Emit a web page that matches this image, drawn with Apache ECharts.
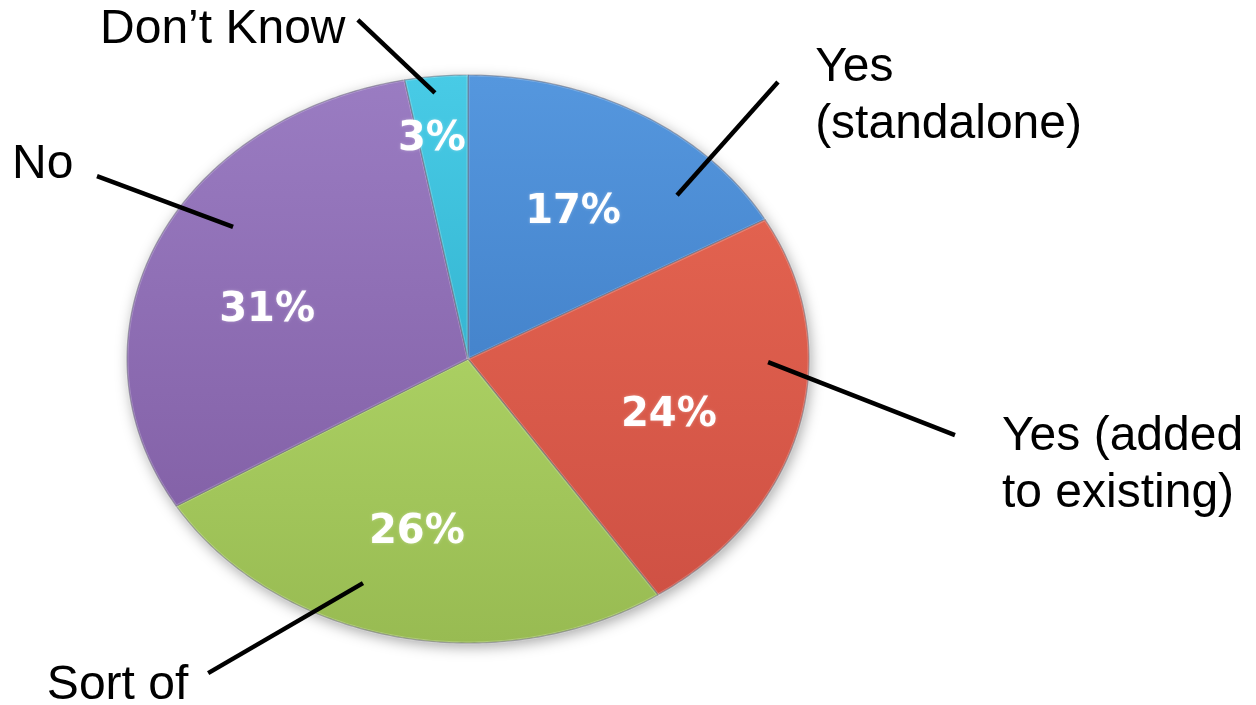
<!DOCTYPE html>
<html>
<head>
<meta charset="utf-8">
<script src="https://cdn.jsdelivr.net/npm/echarts@6/dist/echarts.min.js"></script>
<style>
html,body{margin:0;padding:0;background:#fff;}
#chart{width:1256px;height:705px;}
</style>
</head>
<body>
<div id="chart"></div>
<script>
// ---- data ----
const categories = ['Yes (standalone)', 'Yes (added to existing)', 'Sort of', 'No', 'Don\u2019t Know'];
const labelTexts = ['Yes\n(standalone)', 'Yes (added\nto existing)', 'Sort of', 'No', 'Don\u2019t Know'];
const values = [17, 24, 26, 31, 3];
const percentTexts = ['17%', '24%', '26%', '31%', '3%'];

// ---- styling / layout (ellipse units: x = horizontal radius, y = vertical radius) ----
const sliceColors = [
  ['#5597de', '#4584cc'],
  ['#e2624f', '#cf5144'],
  ['#aacf62', '#98bb52'],
  ['#9a7cc2', '#8462a8'],
  ['#48cbe6', '#35b6d2']
];
const pctPos = [[0.308, 0.514], [0.589, -0.201], [-0.150, -0.613], [-0.589, 0.169], [-0.106, 0.771]];
const leaderFrom = [[0.613, 0.577], [0.880, -0.011], [-0.308, -0.789], [-0.689, 0.465], [-0.097, 0.937]];
const leaderTo = [[0.909, 0.975], [1.428, -0.268], [-0.762, -1.106], [-1.088, 0.644], [-0.323, 1.194]];
const labelPos = [[1.018, 1.025], [1.566, -0.275], [-1.235, -1.151], [-1.337, 0.683], [-1.079, 1.158]];

const total = values.reduce((a, b) => a + b, 0);
const cum = [];
values.reduce((acc, v, i) => { cum[i] = acc; return acc + v; }, 0);

const chart = echarts.init(document.getElementById('chart'), null, {renderer: 'canvas'});

function ellipsePoints(api, a0, a1) {
  const n = Math.max(6, Math.ceil((a1 - a0) * 80));
  const pts = [];
  for (let k = 0; k <= n; k++) {
    const t = a0 + (a1 - a0) * k / n;
    pts.push(api.coord([Math.sin(t), Math.cos(t)]));
  }
  return pts;
}

function renderSlice(params, api) {
  const i = params.dataIndex;
  const a0 = cum[i] / total * Math.PI * 2;
  const a1 = (cum[i] + values[i]) / total * Math.PI * 2;
  const c = api.coord([0, 0]);
  const pts = [c].concat(ellipsePoints(api, a0, a1));
  const col = sliceColors[i];
  const lineLH = 57;
  const lp = api.coord(labelPos[i]);
  return {
    type: 'group',
    children: [
      {
        type: 'polygon',
        shape: {points: pts},
        style: {
          fill: {type: 'linear', x: 0, y: 0, x2: 0, y2: 1, colorStops: [{offset: 0, color: col[0]}, {offset: 1, color: col[1]}]},
          stroke: 'rgba(40,40,60,0.45)',
          lineWidth: 1.2,
          lineJoin: 'round'
        },
        z2: 1
      },
      {
        type: 'polyline',
        shape: {points: [c].concat(ellipsePoints(api, a0, a1))},
        style: {fill: null, stroke: 'rgba(255,255,255,0.22)', lineWidth: 3},
        z2: 2,
        silent: true
      },
      {
        type: 'line',
        shape: (function () {
          const p = api.coord(leaderFrom[i]);
          const q = api.coord(leaderTo[i]);
          return {x1: p[0], y1: p[1], x2: q[0], y2: q[1]};
        })(),
        style: {stroke: '#000', lineWidth: 4.5},
        z2: 5
      },
      {
        type: 'text',
        style: (function () {
          const p = api.coord(pctPos[i]);
          return {
            text: percentTexts[i], x: p[0], y: p[1],
            align: 'center', verticalAlign: 'middle',
            fill: '#ffffff', font: 'bold 40px "DejaVu Sans", sans-serif',
            textShadowColor: 'rgba(255,255,255,0.35)', textShadowBlur: 3
          };
        })(),
        z2: 6
      },
      {
        type: 'text',
        style: {
          text: labelTexts[i], x: lp[0], y: lp[1] - lineLH / 2,
          align: 'left', verticalAlign: 'top', lineHeight: lineLH,
          fill: '#000000', font: '48px "Liberation Sans", Arial, sans-serif'
        },
        z2: 6
      }
    ]
  };
}

function renderShadow(params, api) {
  const pts = ellipsePoints(api, 0, Math.PI * 2);
  return {
    type: 'polygon',
    shape: {points: pts},
    style: {fill: '#ffffff', shadowBlur: 14, shadowColor: 'rgba(0,0,0,0.35)', shadowOffsetY: 4, shadowOffsetX: 2}
  };
}

chart.setOption({
  animation: false,
  backgroundColor: '#ffffff',
  grid: {left: 127, top: 75, width: 682, height: 568, show: false},
  xAxis: {type: 'value', min: -1, max: 1, show: false},
  yAxis: {type: 'value', min: -1, max: 1, show: false},
  series: [
    {
      type: 'custom', name: 'shadow', coordinateSystem: 'cartesian2d',
      renderItem: renderShadow, data: [[0, 0]], z: 1, silent: true
    },
    {
      type: 'custom', name: 'Survey', coordinateSystem: 'cartesian2d',
      renderItem: renderSlice,
      encode: {x: 0, y: 1},
      data: values.map((v, i) => ({name: categories[i], value: [0, 0, v]})),
      z: 2
    }
  ]
});
</script>
</body>
</html>
